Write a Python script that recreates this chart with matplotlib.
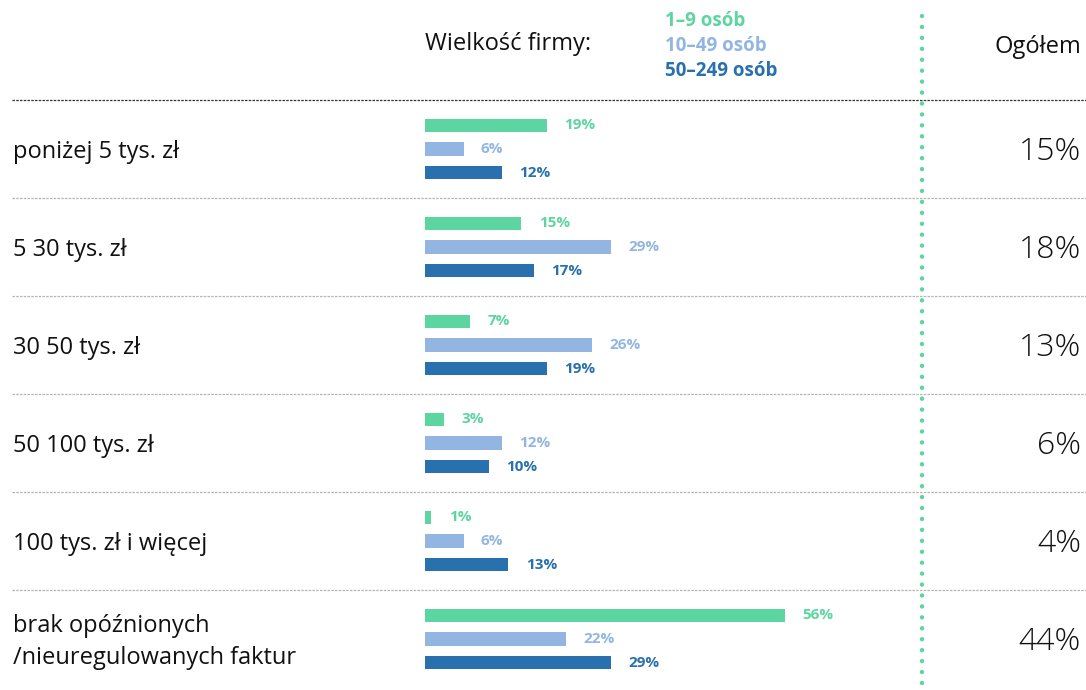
import matplotlib.pyplot as plt
import numpy as np

plt.rcParams['font.family'] = ['Open Sans', 'DejaVu Sans']

# data
categories = ['poniżej 5 tys. zł', '5 30 tys. zł', '30 50 tys. zł', '50 100 tys. zł',
              '100 tys. zł i więcej', 'brak opóźnionych\n/nieuregulowanych faktur']
series_names = ['1–9 osób', '10–49 osób', '50–249 osób']
small = [19, 15, 7, 3, 1, 56]
medium = [6, 29, 26, 12, 6, 22]
large = [12, 17, 19, 10, 13, 29]
total = [15, 18, 13, 6, 4, 44]

colors = ['#5DD5A0', '#92B5E2', '#2870AE']

W, H = 1086, 690
fig = plt.figure(figsize=(W / 100, H / 100), dpi=100)

# background axes in pixel coords for the layout decorations
bg = fig.add_axes([0, 0, 1, 1])
bg.set_xlim(0, W)
bg.set_ylim(H, 0)
bg.axis('off')

row_top = 100
row_h = 98
n = len(categories)

# bar axes: x in percent, y in row units
bar_left, bar_right = 425, 900
ax = fig.add_axes([bar_left / W, 1 - (row_top + n * row_h) / H,
                   (bar_right - bar_left) / W, n * row_h / H])
ax.set_xlim(0, (bar_right - bar_left) / 6.42)
ax.set_ylim(n, 0)
ax.axis('off')
ax.patch.set_alpha(0)

offsets = [-0.24, 0.0, 0.24]
y = np.arange(n) + 0.5
for vals, off, c in zip([small, medium, large], offsets, colors):
    ax.barh(y + off, vals, height=0.133, color=c)
    for yy, v in zip(y + off, vals):
        ax.annotate(f'{v}%', (v, yy), xytext=(12.5, 0), textcoords='offset points',
                    ha='left', va='center', color=c, fontsize=11, fontweight='bold')

# separators
for i in range(n):
    yy = row_top + i * row_h
    col = '#333333' if i == 0 else '#b5b5b5'
    bg.plot([12, W], [yy, yy], color=col, lw=0.9, linestyle=(0, (2, 1)))

# green dotted vertical line
bg.plot([922, 922], [16, H], color='#5DD5A0', lw=3.2, linestyle=(0, (0.01, 2.45)),
        dash_capstyle='round')

# category labels and totals
for i, (cat, t) in enumerate(zip(categories, total)):
    cy = row_top + i * row_h + row_h / 2 + 3
    bg.text(13, cy, cat, ha='left', va='center', fontsize=17, color='#111111',
            linespacing=1.45)
    bg.text(1081, cy, f'{t}%', ha='right', va='center', fontsize=23,
            fontweight='light', color='#111111')

# header
bg.text(425, 44, 'Wielkość firmy:', ha='left', va='center', fontsize=17, color='#111111')
for k, (name, c) in enumerate(zip(series_names, colors)):
    bg.text(665, 21 + k * 25, name, ha='left', va='center', fontsize=13.5,
            fontweight='bold', color=c)
bg.text(1081, 47, 'Ogółem', ha='right', va='center', fontsize=17, color='#111111')

fig.savefig('out.png', dpi=100)
